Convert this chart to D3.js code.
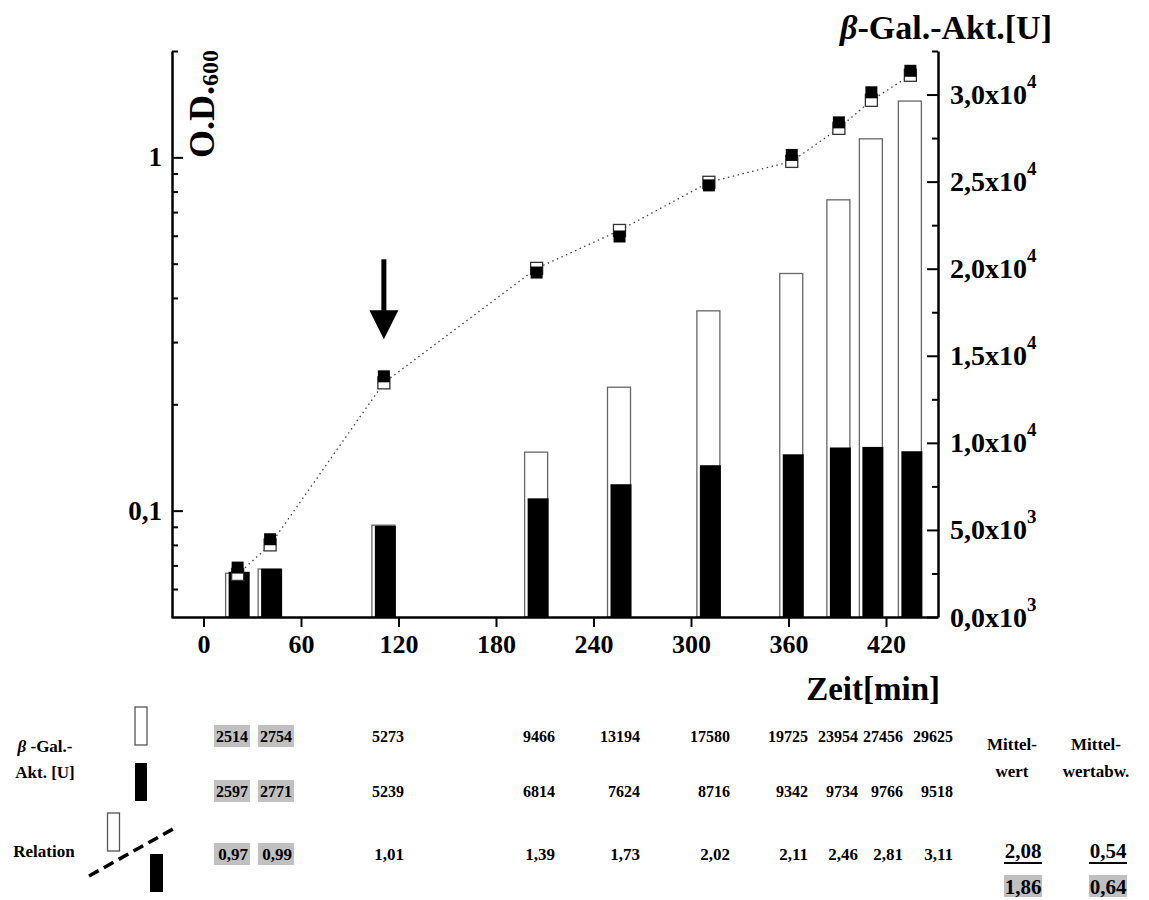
<!DOCTYPE html>
<html>
<head>
<meta charset="utf-8">
<script src="https://cdn.jsdelivr.net/npm/d3@7"></script>
<style>
  body { margin: 0; background: #fff; }
  svg { font-family: "Liberation Serif", "Times New Roman", serif; font-weight: bold; }
</style>
</head>
<body>
<div id="chart"></div>
<script>
// sampling times [min]
const times = [21, 41, 111, 205, 256, 311, 362, 391, 411, 435];
// O.D.600 of the two cultures (white / black squares)
const odWhite = [0.066, 0.080, 0.230, 0.485, 0.621, 0.850, 0.974, 1.208, 1.450, 1.707];
const odBlack = [0.069, 0.083, 0.240, 0.472, 0.597, 0.833, 1.016, 1.256, 1.528, 1.758];
// beta-Gal activity [U]
const galWhite = [2514, 2754, 5273, 9466, 13194, 17580, 19725, 23954, 27456, 29625];
const galBlack = [2597, 2771, 5239, 6814, 7624, 8716, 9342, 9734, 9766, 9518];
const relation = ['0,97', '0,99', '1,01', '1,39', '1,73', '2,02', '2,11', '2,46', '2,81', '3,11'];
const shaded = [true, true, false, false, false, false, false, false, false, false];
const meanVals = ['2,08', '1,86'];
const devVals = ['0,54', '0,64'];

const xTicks = [0, 60, 120, 180, 240, 300, 360, 420];
const leftMajor = [0.1, 1];
const leftMinor = [0.06, 0.07, 0.08, 0.09, 0.2, 0.3, 0.4, 0.5, 0.6, 0.7, 0.8, 0.9, 2];
const rightMajor = [0, 5000, 10000, 15000, 20000, 25000, 30000];
const rightMinor = [2500, 7500, 12500, 17500, 22500, 27500, 32500];

// table column right edges (layout)
const colRight = [248, 292, 404, 555, 640, 730, 808, 858, 903, 953];

const width = 1149, height = 900;
const svg = d3.select('#chart').append('svg')
    .attr('width', width)
    .attr('height', height);

const x = d3.scaleLinear().domain([-20, 452]).range([171, 938]);
const yL = d3.scaleLog().domain([0.05, 2]).range([617, 51]);
const yR = d3.scaleLinear().domain([0, 32500]).range([617, 51]);

// bars: white first, black slightly right on top
svg.append('g').selectAll('rect')
    .data(times)
    .join('rect')
    .attr('x', (d) => x(d) - 12)
    .attr('y', (d, i) => yR(galWhite[i]))
    .attr('width', 23)
    .attr('height', (d, i) => yR(0) - yR(galWhite[i]))
    .attr('fill', '#fff')
    .attr('stroke', '#666')
    .attr('stroke-width', 1.3);

svg.append('g').selectAll('rect')
    .data(times)
    .join('rect')
    .attr('x', (d) => x(d) - 9)
    .attr('y', (d, i) => yR(galBlack[i]))
    .attr('width', 21)
    .attr('height', (d, i) => yR(0) - yR(galBlack[i]))
    .attr('fill', '#000');

// dotted O.D. line
const line = d3.line()
    .x((d) => x(d[0]))
    .y((d) => yL(d[1]));
svg.append('path')
    .datum(times.map((t, i) => [t, odWhite[i]]))
    .attr('d', line)
    .attr('fill', 'none')
    .attr('stroke', '#444')
    .attr('stroke-width', 1.3)
    .attr('stroke-dasharray', '1.5,3.5');

// markers
svg.append('g').selectAll('rect')
    .data(times)
    .join('rect')
    .attr('x', (d) => x(d) - 6)
    .attr('y', (d, i) => yL(odWhite[i]) - 6)
    .attr('width', 12)
    .attr('height', 12)
    .attr('fill', '#fff')
    .attr('stroke', '#333')
    .attr('stroke-width', 1.3);

svg.append('g').selectAll('rect')
    .data(times)
    .join('rect')
    .attr('x', (d) => x(d) - 6)
    .attr('y', (d, i) => yL(odBlack[i]) - 6)
    .attr('width', 12)
    .attr('height', 12)
    .attr('fill', '#000');

// arrow above the 3rd sample
const arrow = svg.append('g')
    .attr('transform', `translate(${x(times[2])},${yL(odBlack[2]) - 37})`);
arrow.append('rect')
    .attr('x', -2.5).attr('y', -80).attr('width', 5).attr('height', 55)
    .attr('fill', '#000');
arrow.append('path')
    .attr('d', 'M-14.5,-29L14.5,-29L0,0Z')
    .attr('fill', '#000');

// axes
function styleAxis(g) {
    g.attr('font-family', null).attr('font-size', null);
    g.select('.domain').attr('stroke-width', 2.5);
    g.selectAll('.tick line').attr('stroke-width', 2);
}

svg.append('g')
    .attr('transform', 'translate(0,617)')
    .call(d3.axisBottom(x).tickValues(xTicks).tickSize(10).tickSizeOuter(0).tickPadding(8))
    .call(styleAxis)
    .call((g) => g.selectAll('text')
        .attr('font-size', 26)
        .attr('fill', '#000'));

svg.append('g')
    .attr('transform', 'translate(172,0)')
    .call(d3.axisLeft(yL).tickValues(leftMinor).tickSize(-6).tickSizeOuter(0).tickFormat(''))
    .call(styleAxis);

svg.append('g')
    .attr('transform', 'translate(172,0)')
    .call(d3.axisLeft(yL).tickValues(leftMajor).tickSize(-11).tickSizeOuter(0).tickPadding(10)
        .tickFormat((d) => String(d).replace('.', ',')))
    .call(styleAxis)
    .call((g) => g.select('.domain').remove())
    .call((g) => g.selectAll('text')
        .attr('font-size', 27)
        .attr('fill', '#000'));

svg.append('g')
    .attr('transform', 'translate(938,0)')
    .call(d3.axisRight(yR).tickValues(rightMinor).tickSize(-6).tickSizeOuter(0).tickFormat(''))
    .call(styleAxis);

const rAxis = svg.append('g')
    .attr('transform', 'translate(938,0)')
    .call(d3.axisRight(yR).tickValues(rightMajor).tickSize(-11).tickSizeOuter(0).tickFormat(''))
    .call(styleAxis)
    .call((g) => g.select('.domain').remove());

rAxis.selectAll('.tick').each(function (d) {
    const exp = d >= 10000 ? 4 : 3;
    const mant = (d / Math.pow(10, exp)).toFixed(1).replace('.', ',');
    const t = d3.select(this).append('text')
        .attr('x', 12)
        .attr('y', 9)
        .attr('fill', '#000')
        .attr('font-size', 28)
        .attr('text-anchor', 'start');
    t.append('tspan').text(mant + 'x10');
    t.append('tspan').attr('dy', -16).attr('font-size', 19).text(exp);
});

// axis titles
const od = svg.append('text')
    .attr('transform', 'translate(214,158) rotate(-90)')
    .attr('font-size', 36);
od.append('tspan').text('O.D.');
od.append('tspan').attr('font-size', 24).attr('dy', 4).text('600');

const gal = svg.append('text')
    .attr('x', 1052).attr('y', 39)
    .attr('text-anchor', 'end')
    .attr('font-size', 34);
gal.append('tspan').attr('font-style', 'italic').text('β');
gal.append('tspan').text('-Gal.-Akt.[U]');

svg.append('text')
    .attr('x', 940).attr('y', 700)
    .attr('text-anchor', 'end')
    .attr('font-size', 33)
    .text('Zeit[min]');

// ---- table below the chart ----
const table = svg.append('g');

const rows = [
    { vals: galWhite, y: 742, size: 16 },
    { vals: galBlack, y: 797, size: 16 },
    { vals: relation, y: 860, size: 17 }
];

rows.forEach((row) => {
    row.vals.forEach((v, i) => {
        if (shaded[i]) {
            table.append('rect')
                .attr('x', colRight[i] - 34)
                .attr('y', row.y - 17)
                .attr('width', 36)
                .attr('height', 22)
                .attr('fill', '#c0c0c0');
        }
        table.append('text')
            .attr('x', colRight[i])
            .attr('y', row.y)
            .attr('text-anchor', 'end')
            .attr('font-size', row.size)
            .text(v);
    });
});

// row labels
const lab = table.append('text').attr('x', 45).attr('y', 752)
    .attr('text-anchor', 'middle').attr('font-size', 17);
lab.append('tspan').attr('font-style', 'italic').text('β');
lab.append('tspan').text(' -Gal.-');
table.append('text').attr('x', 45).attr('y', 778)
    .attr('text-anchor', 'middle').attr('font-size', 17).text('Akt. [U]');
table.append('text').attr('x', 44).attr('y', 857)
    .attr('text-anchor', 'middle').attr('font-size', 17).text('Relation');

// legend glyphs
table.append('rect').attr('x', 135).attr('y', 707).attr('width', 12).attr('height', 38)
    .attr('fill', '#fff').attr('stroke', '#555').attr('stroke-width', 1.3);
table.append('rect').attr('x', 135).attr('y', 763).attr('width', 12).attr('height', 38)
    .attr('fill', '#000');
table.append('rect').attr('x', 107.5).attr('y', 813).attr('width', 12).attr('height', 38)
    .attr('fill', '#fff').attr('stroke', '#555').attr('stroke-width', 1.3);
table.append('rect').attr('x', 150).attr('y', 854).attr('width', 13).attr('height', 38)
    .attr('fill', '#000');
table.append('line')
    .attr('x1', 89).attr('y1', 876).attr('x2', 173).attr('y2', 829)
    .attr('stroke', '#000').attr('stroke-width', 3.5)
    .attr('stroke-dasharray', '11,6');

// mean / deviation columns
[['Mittel-', 'wert', 1012], ['Mittel-', 'wertabw.', 1096]].forEach(([a, b, cx]) => {
    table.append('text').attr('x', cx).attr('y', 750)
        .attr('text-anchor', 'middle').attr('font-size', 17).text(a);
    table.append('text').attr('x', cx).attr('y', 777)
        .attr('text-anchor', 'middle').attr('font-size', 17).text(b);
});

[[meanVals, 1023], [devVals, 1108]].forEach(([vals, cx]) => {
    table.append('text').attr('x', cx).attr('y', 858)
        .attr('text-anchor', 'middle').attr('font-size', 21).text(vals[0]);
    table.append('line')
        .attr('x1', cx - 19).attr('x2', cx + 19)
        .attr('y1', 863).attr('y2', 863)
        .attr('stroke', '#000').attr('stroke-width', 2);
    table.append('rect')
        .attr('x', cx - 19).attr('y', 875).attr('width', 38).attr('height', 22)
        .attr('fill', '#c0c0c0');
    table.append('text').attr('x', cx).attr('y', 894)
        .attr('text-anchor', 'middle').attr('font-size', 21).text(vals[1]);
});
</script>
</body>
</html>
